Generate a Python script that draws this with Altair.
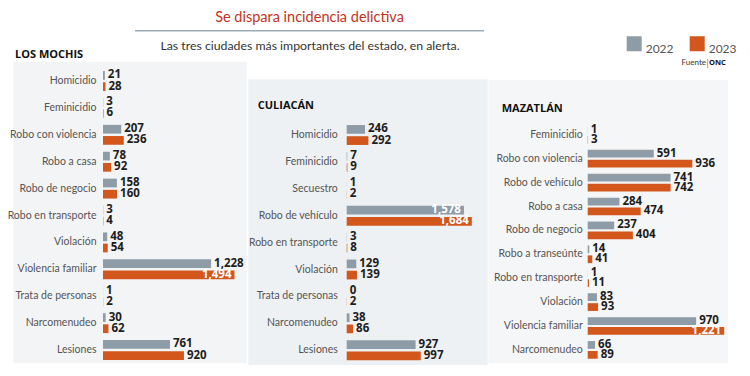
import altair as alt
import pandas as pd

YEARS = ["2022", "2023"]

lm_cats = ["Homicidio", "Feminicidio", "Robo con violencia", "Robo a casa", "Robo de negocio",
           "Robo en transporte", "Violación", "Violencia familiar", "Trata de personas",
           "Narcomenudeo", "Lesiones"]
lm_2022 = [21, 3, 207, 78, 158, 3, 48, 1228, 1, 30, 761]
lm_2023 = [28, 6, 236, 92, 160, 4, 54, 1494, 2, 62, 920]

cu_cats = ["Homicidio", "Feminicidio", "Secuestro", "Robo de vehículo", "Robo en transporte",
           "Violación", "Trata de personas", "Narcomenudeo", "Lesiones"]
cu_2022 = [246, 7, 1, 1578, 3, 129, 0, 38, 927]
cu_2023 = [292, 9, 2, 1684, 8, 139, 2, 86, 997]

mz_cats = ["Feminicidio", "Robo con violencia", "Robo de vehículo", "Robo a casa", "Robo de negocio",
           "Robo a transeúnte", "Robo en transporte", "Violación", "Violencia familiar", "Narcomenudeo"]
mz_2022 = [1, 591, 741, 284, 237, 14, 1, 83, 970, 66]
mz_2023 = [3, 936, 742, 474, 404, 41, 11, 93, 1221, 89]

TITLE = "Se dispara incidencia delictiva"
SUBTITLE = "Las tres ciudades más importantes del estado, en alerta."

GREY = "#8e9ca7"
ORANGE = "#d3561c"
COND = "Lato, sans-serif"
BOLD = "Open Sans, Liberation Sans, sans-serif"


def frame(cats, v22, v23):
    rows = []
    for c, a, b in zip(cats, v22, v23):
        rows.append({"cat": c, "year": "2022", "value": a})
        rows.append({"cat": c, "year": "2023", "value": b})
    return pd.DataFrame(rows)


color = alt.Color(
    "year:N",
    scale=alt.Scale(domain=YEARS, range=[GREY, ORANGE]),
    legend=alt.Legend(orient="none", legendX=618.7, legendY=28, direction="horizontal",
                      title=None, symbolType="square", symbolSize=225, symbolStrokeWidth=0,
                      labelFont=COND, labelFontSize=12, labelColor="#555", labelBaseline="top",
                      columnPadding=16, padding=0, symbolOpacity=1),
)


def panel(df, cats, xdom, xrange, yrange, axis_offset, label_pad, threshold):
    base = alt.Chart(df)
    y = alt.Y("cat:N", sort=cats,
              scale=alt.Scale(domain=cats, range=yrange, paddingInner=0.26, paddingOuter=0.13),
              axis=alt.Axis(orient="left", offset=axis_offset, domain=False, ticks=False, grid=False,
                            labelPadding=label_pad, labelFont=COND, labelFontSize=10.5,
                            labelColor="#555", title=None, labelLimit=200, zindex=1))
    yo = alt.YOffset("year:N", sort=YEARS, scale=alt.Scale(domain=YEARS, paddingInner=0.22))
    x = alt.X("value:Q", scale=alt.Scale(domain=xdom, range=xrange), axis=None)
    bars = base.mark_bar().encode(x=x, y=y, yOffset=yo, color=color)
    out = base.transform_filter(f"datum.value <= {threshold}").mark_text(
        align="left", dx=3, baseline="middle", font=BOLD, fontWeight="bold", fontSize=11.5,
        color="#1d1d1d").encode(x=x, y=y, yOffset=yo, text=alt.Text("value:Q", format=","))
    ins = base.transform_filter(f"datum.value > {threshold}").mark_text(
        align="right", dx=-3, baseline="middle", font=BOLD, fontWeight="bold", fontSize=11.5,
        color="white").encode(x=x, y=y, yOffset=yo, text=alt.Text("value:Q", format=","))
    return alt.layer(bars, out, ins)


lm = panel(frame(lm_cats, lm_2022, lm_2023), lm_cats, [0, 1500], [95, 227],
           [59.55, 355.45], -95, 7, 1300)
cu = panel(frame(cu_cats, cu_2022, cu_2023), cu_cats, [0, 1700], [338.7, 465],
           [113.55, 355.65], -338.7, 9.4, 1500)
mz = panel(frame(mz_cats, mz_2022, mz_2023), mz_cats, [0, 1250], [579.7, 719.45],
           [114.85, 353.85], -579.7, 5.4, 1000)

one = pd.DataFrame({"a": [0]})


def rect(x1, x2, y1, y2, fill):
    return alt.Chart(one).mark_rect(color=fill).encode(
        x=alt.value(x1), x2=alt.value(x2), y=alt.value(y1), y2=alt.value(y2))


def label(txt, x, y, **kw):
    return alt.Chart(pd.DataFrame({"t": [txt]})).mark_text(**kw).encode(
        text="t:N", x=alt.value(x), y=alt.value(y))


bgs = [
    rect(5.3, 238.7, 53.7, 355, "#f3f4f5"),
    rect(240.3, 479.7, 71.3, 357, "#eef1f4"),
    rect(480.5, 720, 72, 355, "#f5f6f7"),
]
rule = alt.Chart(one).mark_rule(color="#9aabb8", strokeWidth=1.5).encode(
    x=alt.value(127), x2=alt.value(476), y=alt.value(22.7))

texts = [
    label(TITLE, 301.5, 14, font=COND, fontSize=14.5, color="#c4321c", align="center",
          baseline="alphabetic"),
    label(SUBTITLE, 302, 41.7, font=COND, fontSize=12.3, color="#333", align="center",
          baseline="alphabetic"),
    label("LOS MOCHIS", 7, 46.7, font=BOLD, fontWeight="bold", fontSize=11, color="#111",
          align="left", baseline="middle"),
    label("CULIACÁN", 249.7, 98, font=BOLD, fontWeight="bold", fontSize=11, color="#111",
          align="left", baseline="middle"),
    label("MAZATLÁN", 493.7, 100.5, font=BOLD, fontWeight="bold", fontSize=11, color="#111",
          align="left", baseline="middle"),
    label("Fuente", 698, 55.3, font=COND, fontSize=8, color="#333", align="right",
          baseline="middle"),
    label("|", 699.5, 55.3, font=COND, fontSize=9, color=ORANGE, align="center",
          baseline="middle"),
    label("ONC", 701, 55.3, font=BOLD, fontWeight="bold", fontSize=7.5, color="#111",
          align="left", baseline="middle"),
]

chart = alt.layer(*bgs, rule, *texts, lm, cu, mz).resolve_scale(
    x="independent", y="independent", yOffset="independent"
).properties(
    width=734, height=360, autosize=alt.AutoSizeParams(type="none"), padding=0,
    background="white"
).configure_view(stroke=None)

chart.save("out.html", embed_options={"renderer": "svg", "actions": False})
